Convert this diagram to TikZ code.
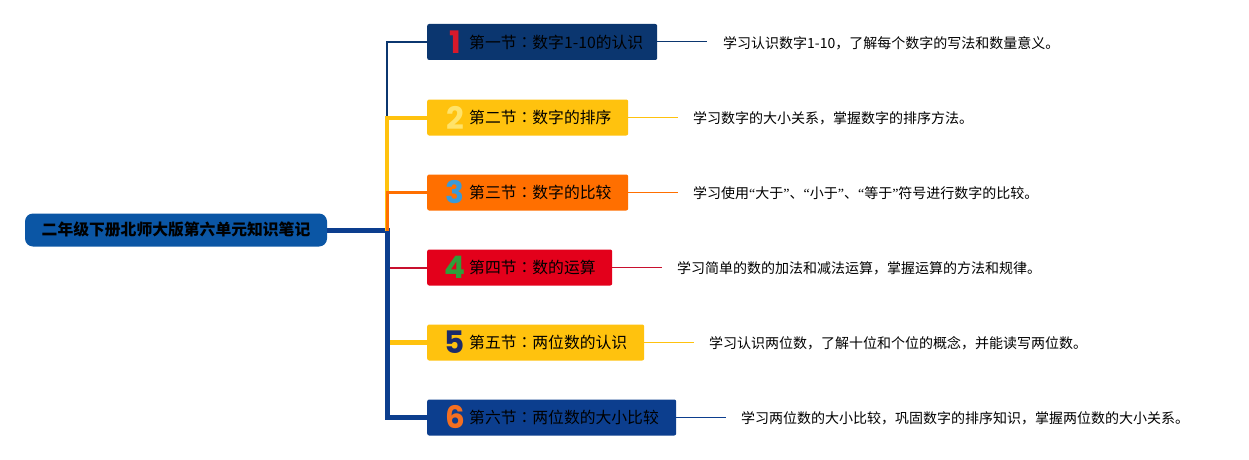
\documentclass[tikz,border=0pt]{standalone}
\usepackage{fontspec}
\newfontfamily\cjk{Noto Sans CJK SC}
\newfontfamily\cjkjp{Noto Sans CJK JP}
\newfontfamily\latf{Liberation Serif}
\newfontfamily\numf{Poppins}
\newcommand\mycolon{{\cjkjp ：}}
\newcommand\myLq{{\latf “}}
\newcommand\myRq{{\latf ”}}
\definecolor{rootc}{HTML}{0B56A5}
\definecolor{cA}{HTML}{0B366F}
\definecolor{cB}{HTML}{FFC20E}
\definecolor{cC}{HTML}{FF6F00}
\definecolor{cD}{HTML}{E3001B}
\definecolor{cDl}{HTML}{C8102E}
\definecolor{cE}{HTML}{FFC20E}
\definecolor{cF}{HTML}{0C3E8E}
\definecolor{nA}{HTML}{D7192B}
\definecolor{nB}{HTML}{FFE36A}
\definecolor{nC}{HTML}{3A9AD9}
\definecolor{nD}{HTML}{2E9E3A}
\definecolor{nE}{HTML}{1B2B6B}
\definecolor{nF}{HTML}{F36F21}
\tikzset{
  rootbox/.style={fill=rootc, rounded corners=8pt, minimum width=302pt, minimum height=33pt,
    inner sep=0pt, font=\cjk\bfseries\fontsize{15.8}{18}\selectfont, text=black},
  secbox/.style={rounded corners=2pt, minimum height=36pt, inner sep=0pt, anchor=west},
  numtxt/.style={font=\numf\bfseries\fontsize{31}{32}\selectfont, inner sep=0pt},
  labtxt/.style={font=\cjk\fontsize{15.8}{18}\selectfont, anchor=west, inner sep=0pt, text=black},
  desctxt/.style={font=\cjk\fontsize{14}{16}\selectfont, anchor=west, inner sep=0pt, text=black},
  thinline/.style={line width=1pt},
}
\begin{document}
\begin{tikzpicture}[x=1pt,y=-1pt]
\useasboundingbox (0,0) rectangle (1249,460);
\node[rootbox] (root) at (176,230) {二年级下册北师大版第六单元知识笔记};
\coordinate (j) at (387,230.5);
% boxes
\node[secbox, fill=cA, minimum width=230pt] (b1) at (427,42) {};
\node[secbox, fill=cB, minimum width=201pt] (b2) at (427,117.5) {};
\node[secbox, fill=cC, minimum width=201pt] (b3) at (427,192.5) {};
\node[secbox, fill=cD, minimum width=185pt] (b4) at (427,267.5) {};
\node[secbox, fill=cE, minimum width=217pt] (b5) at (427,342.5) {};
\node[secbox, fill=cF, minimum width=249pt] (b6) at (427,417.5) {};
% numbers
\node[numtxt, text=nA] (n1) at (455,42) {1};
\node[numtxt, text=nB] (n2) at (455,117.5) {2};
\node[numtxt, text=nC] (n3) at (455,192.5) {3};
\node[numtxt, text=nD] (n4) at (455,267.5) {4};
\node[numtxt, text=nE] (n5) at (455,342.5) {5};
\node[numtxt, text=nF] (n6) at (455,417.5) {6};
% labels
\node[labtxt] (l1) at (469,42) {第一节\mycolon 数字1-10的认识};
\node[labtxt] (l2) at (469,117.5) {第二节\mycolon 数字的排序};
\node[labtxt] (l3) at (469,192.5) {第三节\mycolon 数字的比较};
\node[labtxt] (l4) at (469,267.5) {第四节\mycolon 数的运算};
\node[labtxt] (l5) at (469,342.5) {第五节\mycolon 两位数的认识};
\node[labtxt] (l6) at (469,417.5) {第六节\mycolon 两位数的大小比较};
% descriptions
\node[desctxt] (d1) at (723,43) {学习认识数字1-10，了解每个数字的写法和数量意义。};
\node[desctxt] (d2) at (693,118) {学习数字的大小关系，掌握数字的排序方法。};
\node[desctxt] (d3) at (693,193) {学习使用\myLq 大于\myRq 、\myLq 小于\myRq 、\myLq 等于\myRq 符号进行数字的比较。};
\node[desctxt] (d4) at (677,268) {学习简单的数的加法和减法运算，掌握运算的方法和规律。};
\node[desctxt] (d5) at (709,343) {学习认识两位数，了解十位和个位的概念，并能读写两位数。};
\node[desctxt] (d6) at (741,418) {学习两位数的大小比较，巩固数字的排序知识，掌握两位数的大小关系。};
% connectors root -> boxes
\draw[cF, line width=5pt] (root.east |- j) -- ([xshift=2.5pt]j);
\draw[cA, line width=2pt] (j) |- (b1.west);
\draw[cB, line width=4pt] (j) |- (b2.west);
\draw[cC, line width=3pt] (j) |- (b3.west);
\draw[cDl, line width=2pt] (j) |- (b4.west);
\draw[cE, line width=5pt] (j) |- (b5.west);
\draw[cF, line width=5pt] (j) |- (b6.west);
% connectors boxes -> descriptions
\draw[cA, thinline] (b1.east) -- ([xshift=-16pt]d1.west |- b1.east);
\draw[cB, thinline] (b2.east) -- ([xshift=-15pt]d2.west |- b2.east);
\draw[cC, thinline] (b3.east) -- ([xshift=-15pt]d3.west |- b3.east);
\draw[cDl, thinline] (b4.east) -- ([xshift=-15pt]d4.west |- b4.east);
\draw[cE, thinline] (b5.east) -- ([xshift=-15pt]d5.west |- b5.east);
\draw[cF, thinline] (b6.east) -- ([xshift=-15pt]d6.west |- b6.east);
\end{tikzpicture}
\end{document}
